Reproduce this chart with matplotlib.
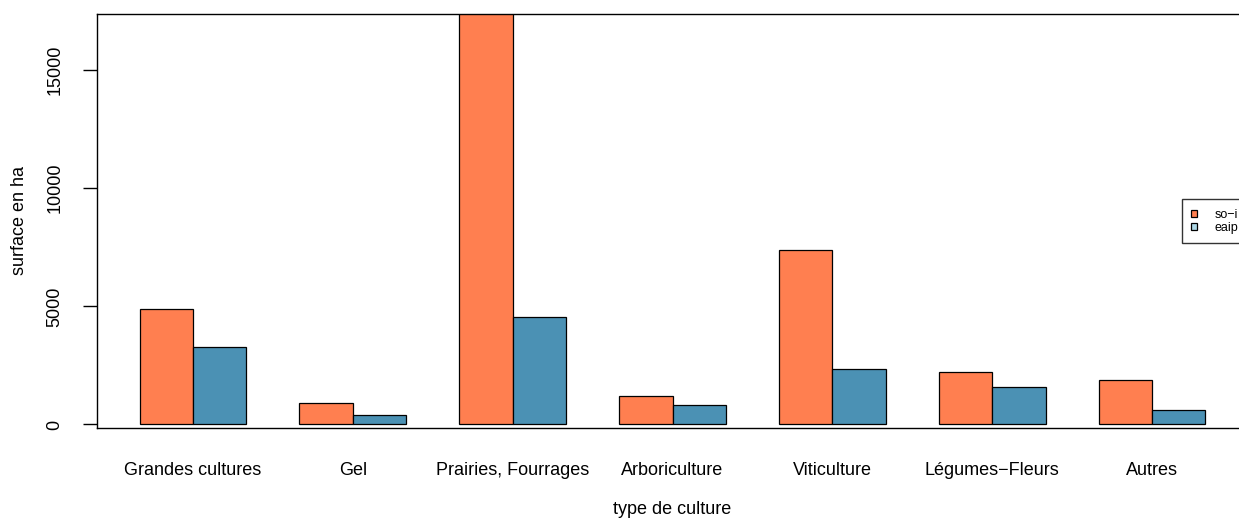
import numpy as np
import matplotlib.pyplot as plt
from matplotlib.patches import Patch

plt.rcParams['font.family'] = ['Liberation Sans', 'DejaVu Sans']

# données (surface en ha)
cultures = ['Grandes cultures', 'Gel', 'Prairies, Fourrages', 'Arboriculture',
            'Viticulture', 'Légumes\u2212Fleurs', 'Autres']
so_i = [4900, 920, 17600, 1205, 7400, 2235, 1870]
eaip = [3290, 400, 4535, 825, 2335, 1600, 630]
series = ['so\u2212i', 'eaip']
yticks = [0, 5000, 10000, 15000]

col_so = '#FF7F50'
col_eaip = '#4B91B4'
col_leg = ['#FF7F50', '#ADD8E6']

fig = plt.figure(figsize=(12.39, 5.18), dpi=100)
ax = fig.add_axes([97/1239, 1 - 428.3/518, 1151/1239, 414.3/518])

# barplot "beside" façon R : largeur 1, espace 1 entre les groupes
k = np.arange(len(cultures))
x1 = 1.5 + 3*k
x2 = 2.5 + 3*k
ax.bar(x1, so_i, width=1, color=col_so, edgecolor='black', linewidth=0.9)
ax.bar(x2, eaip, width=1, color=col_eaip, edgecolor='black', linewidth=0.9)

ax.set_xlim(0.2, 21.8)
ax.set_ylim(-161, 17372)

ax.set_xticks(2 + 3*k, cultures, fontsize=13)
ax.tick_params(axis='x', length=0, pad=24)
ax.set_yticks(yticks, [str(v) for v in yticks], fontsize=13)
ax.tick_params(axis='y', length=10, width=1, pad=14)
for lab in ax.get_yticklabels():
    lab.set_rotation(90)
    lab.set_va('center')

for s in ax.spines.values():
    s.set_linewidth(1)

fig.text(20/1239, 1 - 221/518, 'surface en ha', rotation=90,
         ha='center', va='center', fontsize=13)
fig.text(672.5/1239, 1 - 509/518, 'type de culture',
         ha='center', va='center', fontsize=13)

handles = [Patch(facecolor=c, edgecolor='black', linewidth=0.9) for c in col_leg]
leg = ax.legend(handles, series, loc='center right', fontsize=9,
                frameon=True, fancybox=False, borderaxespad=0,
                borderpad=0.75, labelspacing=0.1, handlelength=0.5,
                handleheight=0.5, handletextpad=1.4)
leg.get_frame().set_edgecolor('black')
leg.get_frame().set_linewidth(1)

fig.savefig('out.png', dpi=100)
